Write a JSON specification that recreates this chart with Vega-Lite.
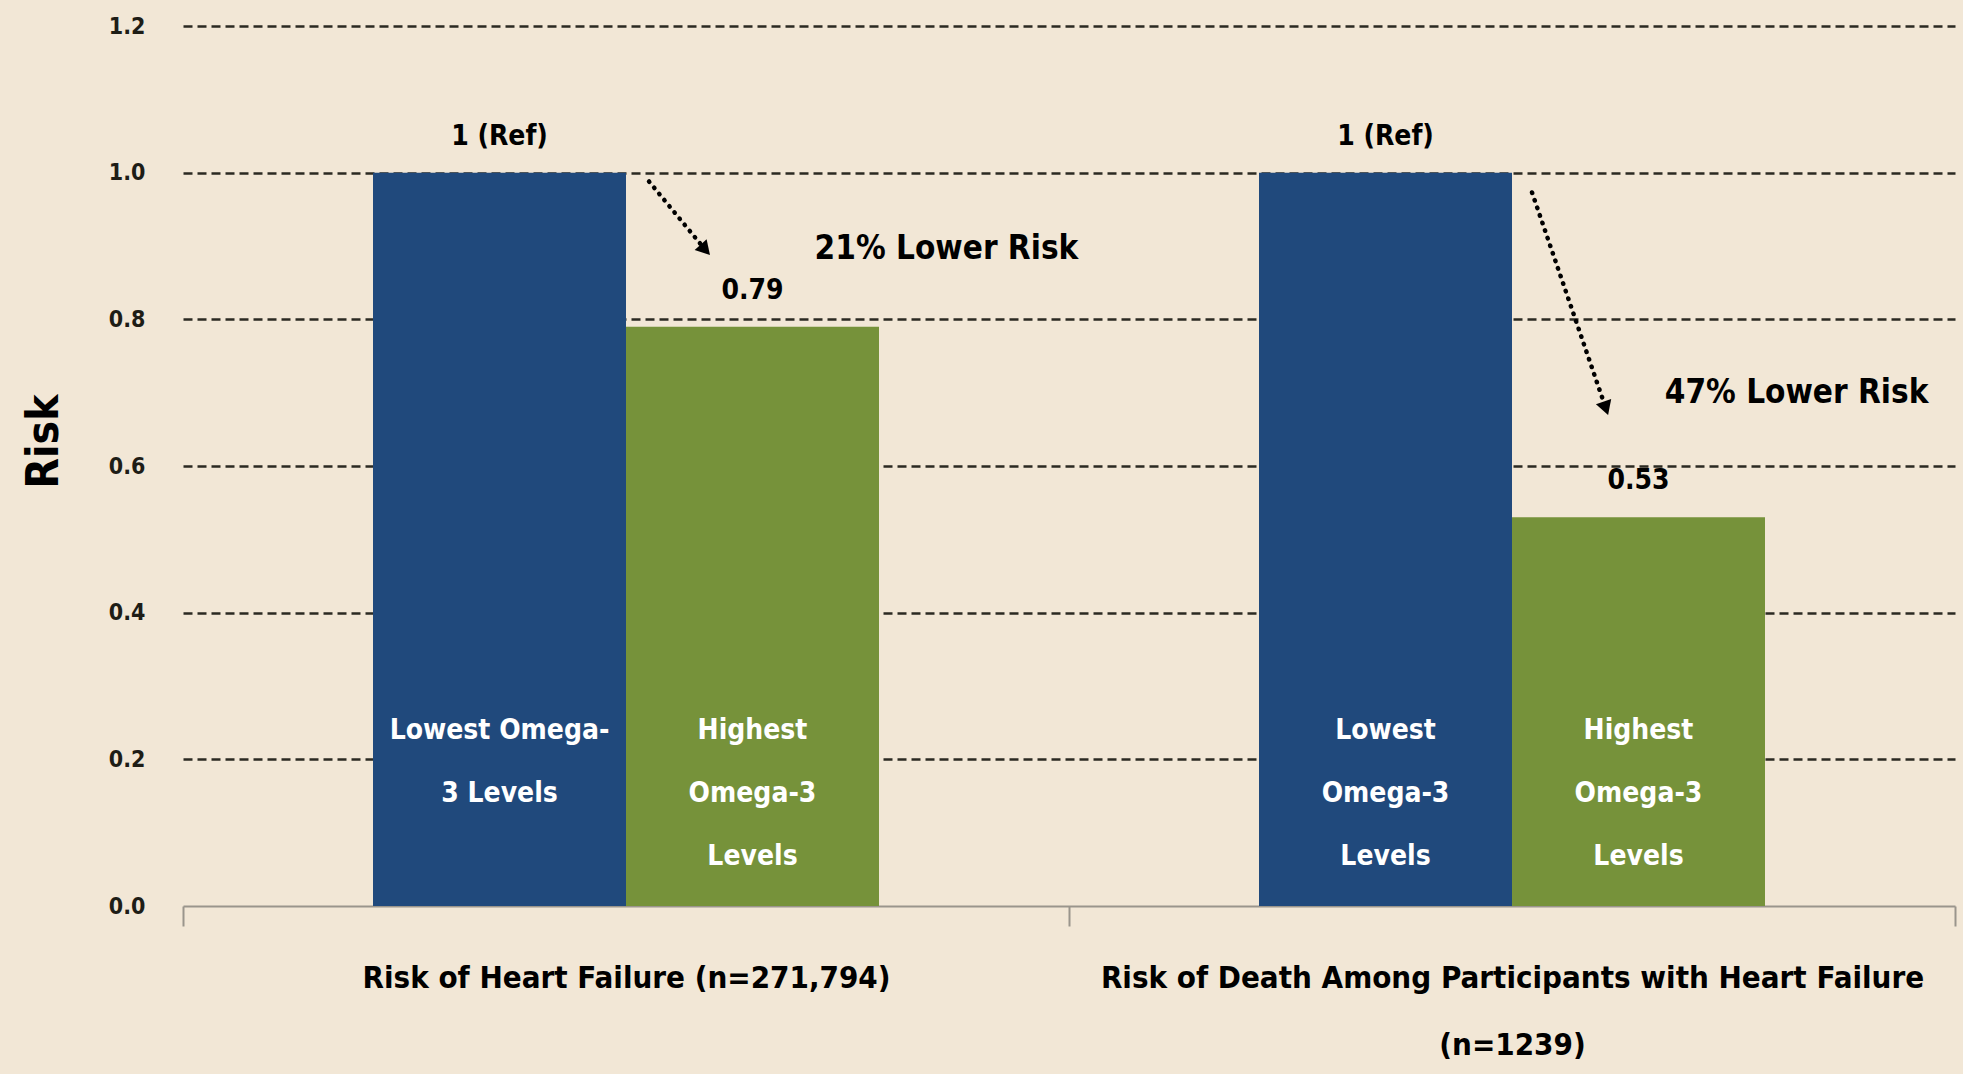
{
  "$schema": "https://vega.github.io/schema/vega-lite/v6.json",
  "width": 1772,
  "height": 880,
  "autosize": {"type": "none"},
  "padding": {"left": 183, "top": 26, "right": 8, "bottom": 168},
  "background": "#F2E7D6",
  "datasets": {
    "bars": [
      {"outcome": "Risk of Heart Failure (n=271,794)", "level": "Lowest Omega-3 Levels", "risk": 1.0, "valueLabel": "1 (Ref)", "label": "Lowest Omega-\n3 Levels"},
      {"outcome": "Risk of Heart Failure (n=271,794)", "level": "Highest Omega-3 Levels", "risk": 0.79, "valueLabel": "0.79", "label": "Highest\nOmega-3\nLevels"},
      {"outcome": "Risk of Death Among Participants with Heart Failure (n=1239)", "level": "Lowest Omega-3 Levels", "risk": 1.0, "valueLabel": "1 (Ref)", "label": "Lowest\nOmega-3\nLevels"},
      {"outcome": "Risk of Death Among Participants with Heart Failure (n=1239)", "level": "Highest Omega-3 Levels", "risk": 0.53, "valueLabel": "0.53", "label": "Highest\nOmega-3\nLevels"}
    ],
    "notes": [
      {"x": 0.8617, "y": 0.896, "text": "21% Lower Risk"},
      {"x": 1.8212, "y": 0.7, "text": "47% Lower Risk"}
    ],
    "arrows": [
      {"x": 0.526, "y": 0.988, "xEnd": 0.5895, "yEnd": 0.8948, "heading": 138},
      {"x": 1.5226, "y": 0.973, "xEnd": 1.6059, "yEnd": 0.6787, "heading": 161}
    ]
  },
  "layer": [
    {
      "data": {"name": "bars"},
      "encoding": {
        "x": {
          "field": "outcome", "type": "nominal",
          "sort": ["Risk of Heart Failure (n=271,794)", "Risk of Death Among Participants with Heart Failure (n=1239)"],
          "scale": {"paddingInner": 0, "paddingOuter": 0},
          "axis": {
            "title": null,
            "labelAngle": 0,
            "labelFont": "DejaVu Sans Condensed",
            "labelFontSize": 31,
            "labelFontWeight": "bold",
            "labelColor": "#000000",
            "labelLimit": 2000,
            "labelLineHeight": 67,
            "labelPadding": 37,
            "labelExpr": "indexof(datum.label, 'Death') >= 0 ? ['Risk of Death Among Participants with Heart Failure', '(n=1239)'] : datum.label",
            "domainColor": "#9a958c",
            "domainWidth": 2,
            "tickColor": "#9a958c",
            "tickWidth": 2,
            "tickSize": 20,
            "tickBand": "extent",
            "grid": false
          }
        },
        "xOffset": {
          "field": "level", "type": "nominal",
          "sort": ["Lowest Omega-3 Levels", "Highest Omega-3 Levels"],
          "scale": {"paddingInner": 0, "paddingOuter": 0.751}
        },
        "y": {
          "field": "risk", "type": "quantitative",
          "scale": {"domain": [0, 1.2], "nice": false, "zero": true},
          "axis": {
            "title": "Risk",
            "titleFont": "DejaVu Sans Condensed",
            "titleFontSize": 44,
            "titleFontWeight": "bold",
            "titleColor": "#000000",
            "titleAngle": -90,
            "titleX": -139,
            "titleY": 415,
            "titleAlign": "center",
            "titleBaseline": "middle",
            "values": [0, 0.2, 0.4, 0.6, 0.8, 1.0, 1.2],
            "format": ".1f",
            "labelFont": "DejaVu Sans Condensed",
            "labelFontSize": 23,
            "labelFontWeight": "bold",
            "labelColor": "#1e1d16",
            "labelPadding": 38,
            "ticks": false,
            "tickSize": 0,
            "domain": false,
            "grid": true,
            "gridColor": "#2b2a22",
            "gridWidth": 2.5,
            "gridDash": [9, 5],
            "gridOpacity": {"condition": {"test": "datum.value === 0", "value": 0}, "value": 1}
          }
        }
      },
      "layer": [
        {
          "mark": {"type": "bar"},
          "encoding": {
            "color": {
              "field": "level", "type": "nominal",
              "scale": {"domain": ["Lowest Omega-3 Levels", "Highest Omega-3 Levels"], "range": ["#20497C", "#76923A"]},
              "legend": null
            }
          }
        },
        {
          "mark": {"type": "text", "font": "DejaVu Sans Condensed", "fontWeight": "bold", "fontSize": 28, "color": "#000000", "baseline": "alphabetic", "dy": -28},
          "encoding": {"text": {"field": "valueLabel"}}
        },
        {
          "mark": {"type": "text", "font": "DejaVu Sans Condensed", "fontWeight": "bold", "fontSize": 28, "color": "#ffffff", "baseline": "alphabetic", "lineBreak": "\n", "lineHeight": 63},
          "encoding": {
            "y": {"datum": 0.228, "type": "quantitative"},
            "text": {"field": "label"}
          }
        }
      ]
    },
    {
      "layer": [
        {
          "data": {"name": "arrows"},
          "mark": {"type": "rule", "color": "#000000", "strokeWidth": 4.5, "strokeDash": [0.5, 7.5], "strokeCap": "round"},
          "encoding": {
            "x": {"field": "x", "type": "quantitative", "scale": {"domain": [0, 2], "nice": false, "zero": false}, "axis": null},
            "y": {"field": "y", "type": "quantitative"},
            "x2": {"field": "xEnd"},
            "y2": {"field": "yEnd"}
          }
        },
        {
          "data": {"name": "arrows"},
          "mark": {"type": "point", "shape": "triangle-up", "filled": true, "color": "#000000", "opacity": 1, "size": 260},
          "encoding": {
            "x": {"field": "xEnd", "type": "quantitative", "scale": {"domain": [0, 2], "nice": false, "zero": false}, "axis": null},
            "y": {"field": "yEnd", "type": "quantitative"},
            "angle": {"field": "heading", "type": "quantitative", "scale": null}
          }
        },
        {
          "data": {"name": "notes"},
          "mark": {"type": "text", "font": "DejaVu Sans Condensed", "fontWeight": "bold", "fontSize": 33, "color": "#000000", "align": "center", "baseline": "middle"},
          "encoding": {
            "x": {"field": "x", "type": "quantitative", "scale": {"domain": [0, 2], "nice": false, "zero": false}, "axis": null},
            "y": {"field": "y", "type": "quantitative"},
            "text": {"field": "text"}
          }
        }
      ]
    }
  ],
  "resolve": {"scale": {"x": "independent"}},
  "config": {"view": {"stroke": null}, "font": "DejaVu Sans Condensed"}
}
